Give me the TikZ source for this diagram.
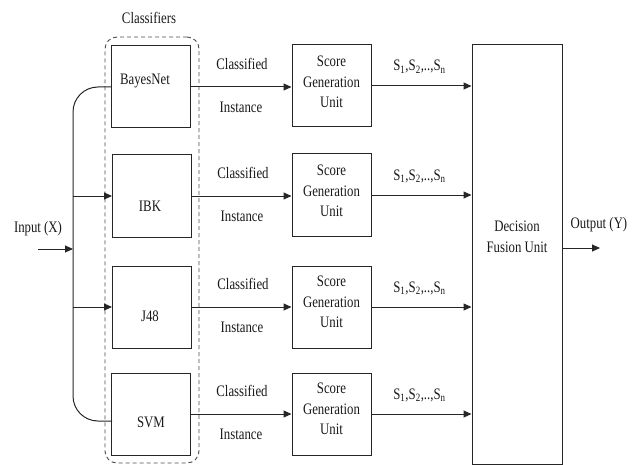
\documentclass[tikz,border=0pt]{standalone}
\usepackage{fontspec}
\setmainfont{Liberation Serif}[FakeStretch=0.8]
\usetikzlibrary{arrows.meta,calc}
\begin{document}
\begin{tikzpicture}[x=1pt,y=-1pt,
  box/.style={draw=black!85, line width=1pt, inner sep=0pt, minimum width=79pt, minimum height=82pt},
  txt/.style={font=\fontsize{16}{20.5}\selectfont, inner sep=0pt, align=center, text=black!90},
  ln/.style={draw=black!85, line width=1pt},
  arr/.style={ln, -{Triangle[length=8pt,width=7pt]}},
  grp/.style={draw=black!70, line width=0.9pt, dash pattern=on 4pt off 3pt, rounded corners=12pt, inner sep=0pt, minimum width=94pt, minimum height=426pt}]
\useasboundingbox (0,0) rectangle (639,465);

% group of classifiers
\node[grp] (group) at (152,250) {};
\node[txt] (grplbl) at (149,18) {Classifiers};

% classifier boxes
\node[box] (bn)  at (151,87)  {};
\node[box] (ibk) at (152,196) {};
\node[box] (j48) at (152,307) {};
\node[box] (svm) at (151,414) {};
\node[txt] (bnt)  at (145,81)  {BayesNet};
\node[txt] (ibkt) at (150,206) {IBK};
\node[txt] (j48t) at (150,316) {J48};
\node[txt] (svmt) at (151,422) {SVM};

% score generation boxes
\node[box] (sc1) at (331.5,86)  {};
\node[box] (sc2) at (331.5,195) {};
\node[box] (sc3) at (331.5,307) {};
\node[box] (sc4) at (331.5,414) {};
\node[txt] (sc1t) at (331.5,82)  {Score\\Generation\\Unit};
\node[txt] (sc2t) at (331.5,191) {Score\\Generation\\Unit};
\node[txt] (sc3t) at (331.5,302) {Score\\Generation\\Unit};
\node[txt] (sc4t) at (331.5,409) {Score\\Generation\\Unit};

% decision fusion
\node[draw=black!85, line width=1pt, minimum width=90pt, minimum height=419pt, inner sep=0pt] (dec) at (517,254.5) {};
\node[txt] (dect) at (517,237) {Decision\\Fusion Unit};

% input
\node[txt] (inl) at (38,229) {Input (X)};
\coordinate (in) at (38,249);
\coordinate (j) at (73,249);
\coordinate (svmin) at (112,421);
\draw[arr] (in) -- (j);
\draw[ln, rounded corners=25pt] (bn.west) -- (bn.west -| j) -- (svmin -| j) -- (svmin);
\draw[arr] (j |- ibk.west) -- (ibk.west);
\draw[arr] (j |- j48.west) -- (j48.west);

% classifier -> score
\foreach \c/\s/\k in {bn/sc1/1, ibk/sc2/2, j48/sc3/3, svm/sc4/4}{
  \draw[arr] (\c.east) -- (\c.east -| \s.west);
  \node[txt] (cl\k) at ($(\c.east)+(51,-23)$) {Classified};
  \node[txt] (ins\k) at ($(\c.east)+(50,20)$) {Instance};
}

% score -> decision
\foreach \s/\k in {sc1/1, sc2/2, sc3/3, sc4/4}{
  \draw[arr] (\s.east) -- (\s.east -| dec.west);
  \node[txt] (sl\k) at ($(\s.east)+(48,-19)$) {S\textsubscript{1},S\textsubscript{2},..,S\textsubscript{n}};
}

% output
\coordinate (out) at (600,248);
\draw[arr] (dec.east |- out) -- (out);
\node[txt] (outl) at (599,225) {Output (Y)};
\end{tikzpicture}
\end{document}
